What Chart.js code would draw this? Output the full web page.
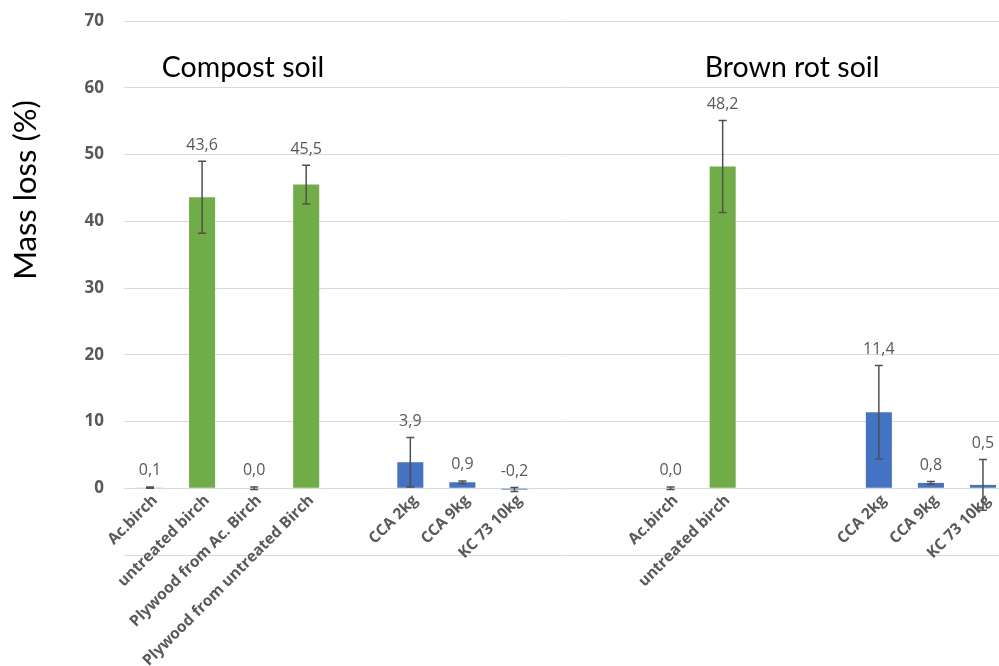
<!DOCTYPE html>
<html>
<head>
<meta charset="utf-8">
<script src="https://cdn.jsdelivr.net/npm/chart.js@4.4.1/dist/chart.umd.min.js"></script>
<style>
  html, body { margin: 0; padding: 0; background: #ffffff; overflow: hidden; }
  #wrap { width: 1010px; height: 666px; position: relative; }
</style>
</head>
<body>
<div id="wrap"><canvas id="chart"></canvas></div>
<script>
// Mass loss per material, two soil tests side by side (empty slots separate the groups)
const categories = [
  'Ac.birch', 'untreated birch', 'Plywood from Ac. Birch', 'Plywood from untreated Birch', '',
  'CCA 2kg', 'CCA 9kg', 'KC 73 10kg', '', '',
  'Ac.birch', 'untreated birch', '', '',
  'CCA 2kg', 'CCA 9kg', 'KC 73 10kg'
];
const massLoss = [0.1, 43.6, 0.0, 45.5, null, 3.9, 0.9, -0.2, null, null, 0.0, 48.2, null, null, 11.4, 0.8, 0.5];
const deviation = [0.1, 5.4, 0.2, 2.9, null, 3.7, 0.2, 0.3, null, null, 0.2, 6.9, null, null, 7.0, 0.2, 3.8];
const material = ['wood', 'wood', 'wood', 'wood', null, 'ref', 'ref', 'ref', null, null, 'wood', 'wood', null, null, 'ref', 'ref', 'ref'];
const soilNames = ['Compost soil', 'Brown rot soil'];
const yTicks = { min: -10, max: 70, step: 10 };

const palette = { wood: '#70AD47', ref: '#4472C4' };

const fmt = v => v.toFixed(1).replace('.', ',');

// Error bars, value labels and soil headings
const annotate = {
  id: 'annotate',
  afterDatasetsDraw(chart) {
    const { ctx } = chart;
    const xs = chart.scales.x, ys = chart.scales.y;
    ctx.save();
    massLoss.forEach((v, i) => {
      if (v === null) return;
      const e = deviation[i] || 0;
      const x = xs.getPixelForValue(i);
      const yHi = ys.getPixelForValue(v + e);
      const yLo = ys.getPixelForValue(v - e);
      ctx.strokeStyle = '#505050';
      ctx.lineWidth = 1.5;
      ctx.beginPath();
      ctx.moveTo(x, yHi); ctx.lineTo(x, yLo);
      ctx.moveTo(x - 4, yHi); ctx.lineTo(x + 4, yHi);
      ctx.moveTo(x - 4, yLo); ctx.lineTo(x + 4, yLo);
      ctx.stroke();

      const top = ys.getPixelForValue(Math.max(v, v + e));
      ctx.fillStyle = '#595959';
      ctx.font = '16px "Open Sans"';
      ctx.textAlign = 'center';
      ctx.textBaseline = 'middle';
      ctx.fillText(fmt(v), x, top - 16);
    });

    ctx.fillStyle = '#000000';
    ctx.font = '28.5px Lato';
    ctx.textAlign = 'center';
    ctx.textBaseline = 'alphabetic';
    ctx.fillText(soilNames[0], 243, 77);
    ctx.fillText(soilNames[1], 792, 77);

    ctx.translate(36, 190);
    ctx.rotate(-Math.PI / 2);
    ctx.font = '31px Lato';
    ctx.fillText('Mass loss (%)', 0, 0);
    ctx.restore();
  }
};

new Chart(document.getElementById('chart'), {
  type: 'bar',
  data: {
    labels: categories,
    datasets: [{
      data: massLoss,
      backgroundColor: material.map(m => palette[m] || 'transparent'),
      barPercentage: 0.5,
      categoryPercentage: 1.0
    }]
  },
  options: {
    responsive: true,
    maintainAspectRatio: false,
    animation: false,
    layout: { padding: { top: 21, bottom: 111, left: 0, right: 1 } },
    plugins: { legend: { display: false }, tooltip: { enabled: false } },
    scales: {
      x: {
        type: 'category',
        position: { y: 0 },
        grid: { display: false, drawTicks: false },
        border: { display: false },
        ticks: {
          autoSkip: false,
          minRotation: 45,
          maxRotation: 45,
          padding: 3,
          labelOffset: 5,
          color: '#595959',
          font: { family: '"Open Sans"', size: 15.5, weight: 'bold' }
        },
        afterFit(scale) { scale.paddingLeft = 0; scale.paddingRight = 0; }
      },
      y: {
        min: yTicks.min,
        max: yTicks.max,
        grid: { color: '#d9d9d9', lineWidth: 1, drawTicks: false },
        border: { display: false },
        ticks: {
          stepSize: yTicks.step,
          padding: 20,
          color: '#595959',
          font: { family: '"Open Sans"', size: 17, weight: 'bold' },
          callback: v => (v === yTicks.min ? ' ' : v)
        },
        afterFit(scale) { scale.width = 124; scale.paddingTop = 0; scale.paddingBottom = 0; }
      }
    }
  },
  plugins: [annotate]
});
</script>
</body>
</html>
